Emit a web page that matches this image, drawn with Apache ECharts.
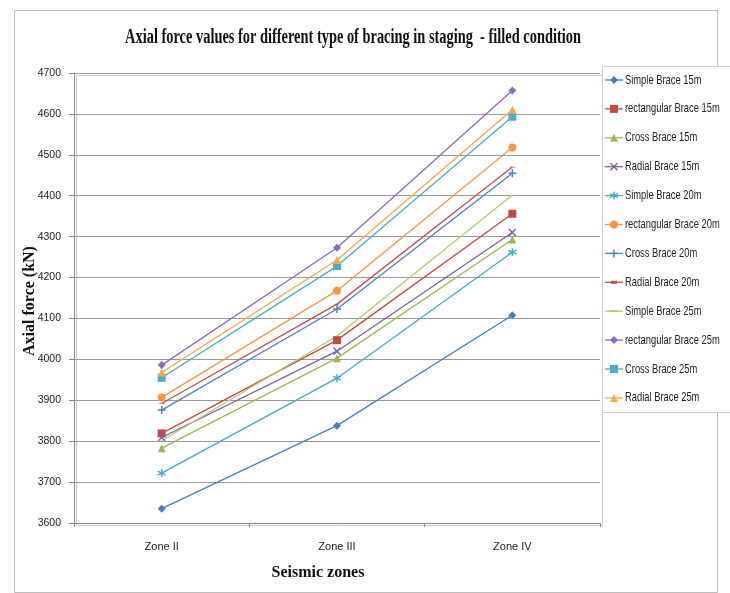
<!DOCTYPE html>
<html><head><meta charset="utf-8">
<script src="https://cdn.jsdelivr.net/npm/echarts@6/dist/echarts.min.js"></script>
<style>html,body{margin:0;padding:0;background:#fff}#c{width:730px;height:593px}</style>
</head><body><div id="c"></div>
<script>
var categories = ['Zone II', 'Zone III', 'Zone IV'];
var yTicks = [3600, 3700, 3800, 3900, 4000, 4100, 4200, 4300, 4400, 4500, 4600, 4700];
var seriesNames = ['Simple Brace 15m','rectangular Brace 15m','Cross Brace 15m','Radial Brace 15m',
  'Simple Brace 20m','rectangular Brace 20m','Cross Brace 20m','Radial Brace 20m',
  'Simple Brace 25m','rectangular Brace 25m','Cross Brace 25m','Radial Brace 25m'];
var simple15 = [3635, 3838, 4108];
var rect15 = [3819, 4047, 4356];
var cross15 = [3783, 4003, 4293];
var radial15 = [3809, 4020, 4310];
var simple20 = [3722, 3954, 4262];
var rect20 = [3907, 4168, 4518];
var cross20 = [3876, 4123, 4455];
var radial20 = [3892, 4135, 4470];
var simple25 = [3801, 4057, 4402];
var rect25 = [3986, 4273, 4657];
var cross25 = [3955, 4228, 4593];
var radial25 = [3968, 4243, 4610];
var allData = [simple15, rect15, cross15, radial15, simple20, rect20, cross20, radial20, simple25, rect25, cross25, radial25];

var colors = ['#4A7EBB','#BE4B48','#98B954','#7D60A0','#46AAC5','#F79646','#4F81BD','#C0504D','#B3CC6E','#8A6DB8','#4BACC6','#F9A64A'];
var markerKinds = ['diamond','rect','triangle','x','star','circle','plus','dash','longdash','diamond','rect','triangle'];
var symbolMap = {
  diamond: 'diamond', rect: 'rect', triangle: 'triangle', circle: 'circle',
  x: 'path://M0,0L10,10M10,0L0,10',
  star: 'path://M5,0L5,10M0,2.5L10,7.5M0,7.5L10,2.5',
  plus: 'path://M5,0L5,10M0,5L10,5',
  dash: 'path://M0,0L10,0L10,3L0,3Z',
  longdash: 'path://M0,0L14,0L14,2L0,2Z'
};
var sizeMap = {diamond: 8, rect: 8, triangle: 8, circle: 8, x: 7, star: 8, plus: 8, dash: [6, 2], longdash: [9, 2]};
var strokeKinds = {x: true, star: true, plus: true};

var sans = "'Liberation Sans',Arial,sans-serif";
var serif = "'Liberation Serif','Times New Roman',serif";

var series = seriesNames.map(function(n, i){
  var k = markerKinds[i];
  return {
    name: n, type: 'line', data: allData[i],
    symbol: symbolMap[k], symbolSize: sizeMap[k], showAllSymbol: true, symbolKeepAspect: true,
    lineStyle: {color: colors[i], width: 1.3},
    itemStyle: strokeKinds[k] ? {color: colors[i], borderColor: colors[i], borderWidth: 1.5} : {color: colors[i], borderWidth: 0},
    emphasis: {disabled: true},
    animation: false
  };
});

// legend drawn as graphic (line + marker + condensed text)
function legendMarker(kind, cx, cy, col) {
  var s = 4;
  switch (kind) {
    case 'diamond': return {type: 'polygon', shape: {points: [[cx, cy - s], [cx + s, cy], [cx, cy + s], [cx - s, cy]]}, style: {fill: col}};
    case 'rect': return {type: 'rect', shape: {x: cx - s, y: cy - s, width: 2 * s, height: 2 * s}, style: {fill: col}};
    case 'triangle': return {type: 'polygon', shape: {points: [[cx, cy - s], [cx + s, cy + s], [cx - s, cy + s]]}, style: {fill: col}};
    case 'circle': return {type: 'circle', shape: {cx: cx, cy: cy, r: s}, style: {fill: col}};
    case 'x': return {type: 'group', children: [
      {type: 'line', shape: {x1: cx - 3.5, y1: cy - 3.5, x2: cx + 3.5, y2: cy + 3.5}, style: {stroke: col, lineWidth: 1.5}},
      {type: 'line', shape: {x1: cx + 3.5, y1: cy - 3.5, x2: cx - 3.5, y2: cy + 3.5}, style: {stroke: col, lineWidth: 1.5}}]};
    case 'star': return {type: 'group', children: [
      {type: 'line', shape: {x1: cx, y1: cy - 4, x2: cx, y2: cy + 4}, style: {stroke: col, lineWidth: 1.5}},
      {type: 'line', shape: {x1: cx - 4, y1: cy - 2, x2: cx + 4, y2: cy + 2}, style: {stroke: col, lineWidth: 1.5}},
      {type: 'line', shape: {x1: cx - 4, y1: cy + 2, x2: cx + 4, y2: cy - 2}, style: {stroke: col, lineWidth: 1.5}}]};
    case 'plus': return {type: 'group', children: [
      {type: 'line', shape: {x1: cx, y1: cy - 4, x2: cx, y2: cy + 4}, style: {stroke: col, lineWidth: 1.5}},
      {type: 'line', shape: {x1: cx - 4, y1: cy, x2: cx + 4, y2: cy}, style: {stroke: col, lineWidth: 1.5}}]};
    case 'dash': return {type: 'rect', shape: {x: cx - 3, y: cy - 1.5, width: 6, height: 3}, style: {fill: col}};
    default: return {type: 'rect', shape: {x: cx - 4.5, y: cy - 1, width: 9, height: 2}, style: {fill: col}};
  }
}
var legendItems = [];
var legTop = 80, legStep = 28.9;
seriesNames.forEach(function(n, i){
  var cy = legTop + i * legStep;
  legendItems.push({type: 'line', shape: {x1: 605, y1: cy, x2: 623, y2: cy}, style: {stroke: colors[i], lineWidth: 1.3}});
  legendItems.push(legendMarker(markerKinds[i], 614, cy, colors[i]));
  legendItems.push({type: 'text', x: 625, y: cy, scaleX: 0.72, style: {text: n, font: "13px " + sans, fill: '#222', align: 'left', verticalAlign: 'middle'}});
});

var chart = echarts.init(document.getElementById('c'), null, {renderer: 'canvas'});
chart.setOption({
  animation: false,
  backgroundColor: '#fff',
  color: colors,
  grid: {left: 74, right: 130, top: 73, bottom: 70},
  xAxis: {
    type: 'category', data: categories, boundaryGap: true,
    axisLine: {lineStyle: {color: '#888', width: 1}},
    axisTick: {show: true, length: 4, lineStyle: {color: '#888'}},
    axisLabel: {color: '#222', fontFamily: sans, fontSize: 11, margin: 18}
  },
  yAxis: {
    type: 'value', min: yTicks[0], max: yTicks[yTicks.length-1], interval: 100,
    axisLine: {show: true, lineStyle: {color: '#888'}},
    axisTick: {show: true, length: 5, lineStyle: {color: '#888'}},
    axisLabel: {color: '#222', fontFamily: sans, fontSize: 10.5, margin: 13, formatter: function(v){ return String(v); }},
    splitLine: {lineStyle: {color: '#9a9a9a', width: 1}}
  },
  graphic: [
    {type: 'rect', left: 12, top: 8, shape: {width: 703, height: 582}, style: {fill: 'none', stroke: '#bdbdbd', lineWidth: 1}, silent: true},
    {type: 'rect', left: 74, top: 73, shape: {width: 526, height: 450}, style: {fill: 'none', stroke: '#c8c8c8', lineWidth: 1}, silent: true, z: -1},
    {type: 'rect', left: 602, top: 66, shape: {width: 140, height: 346}, style: {fill: '#fff', stroke: '#cfcfcf', lineWidth: 1}, silent: true, z: 0},
    {type: 'group', children: legendItems, z: 10},
    {type: 'text', x: 353, y: 38, scaleX: 0.72, style: {text: 'Axial force values for different type of bracing in staging  - filled condition', font: "bold 20px " + serif, fill: '#111', align: 'center', verticalAlign: 'middle'}},
    {type: 'text', x: 30, y: 301, rotation: Math.PI/2, style: {text: 'Axial force (kN)', font: "bold 16px " + serif, fill: '#111', align: 'center', verticalAlign: 'middle'}},
    {type: 'text', x: 318, y: 573, style: {text: 'Seismic zones', font: "bold 16px " + serif, fill: '#111', align: 'center', verticalAlign: 'middle'}}
  ],
  series: series
});
</script></body></html>
